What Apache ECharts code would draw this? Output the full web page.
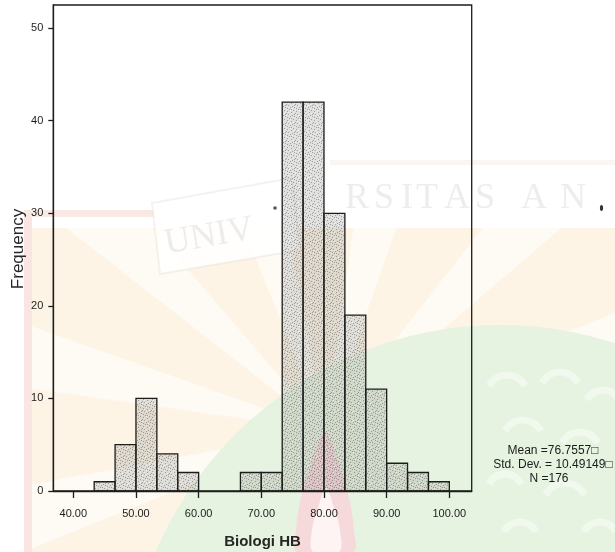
<!DOCTYPE html>
<html>
<head>
<meta charset="utf-8">
<title>Biologi HB</title>
<script src="https://cdn.jsdelivr.net/npm/echarts@6/dist/echarts.min.js"></script>
<style>
  html, body { margin: 0; padding: 0; background: #ffffff; }
  #chart { width: 615px; height: 552px; }
</style>
</head>
<body>
<div id="chart"></div>
<script>
// Histogram bins of Biologi HB (bin width 10/3)
const binLow  = [43.333, 46.667, 50, 53.333, 56.667, 60, 63.333, 66.667, 70, 73.333, 76.667, 80, 83.333, 86.667, 90, 93.333, 96.667];
const binHigh = [46.667, 50, 53.333, 56.667, 60, 63.333, 66.667, 70, 73.333, 76.667, 80, 83.333, 86.667, 90, 93.333, 96.667, 100];
const frequency = [1, 5, 10, 4, 2, 0, 0, 2, 2, 42, 42, 30, 19, 11, 3, 2, 1];

// Axis tick values
const xTicks = [40, 50, 60, 70, 80, 90, 100];
const yTicks = [0, 10, 20, 30, 40, 50];

// Summary statistics
const statMean = '76.7557';
const statStdDev = '10.49149';
const statN = 176;

const FONT = '"Liberation Sans", Arial, sans-serif';
const SERIF = '"Liberation Serif", "DejaVu Serif", serif';
const INK = '#1c1c1c';

// Stipple texture for the bar fill
function stippleTile() {
  const c = document.createElement('canvas');
  c.width = 9; c.height = 9;
  const g = c.getContext('2d');
  g.fillStyle = 'rgba(140,140,132,0.28)';
  g.fillRect(0, 0, 9, 9);
  g.fillStyle = 'rgba(60,60,60,0.38)';
  const dots = [[1,1],[5,2],[3,4],[7,5],[0,6],[4,7],[8,0],[2,8],[6,8],[8,3],[3,1],[6,6]];
  dots.forEach(d => g.fillRect(d[0], d[1], 1, 1));
  g.fillStyle = 'rgba(255,255,255,0.4)';
  [[2,2],[7,1],[0,4],[5,5],[2,6],[7,7],[4,0],[1,7]].forEach(d => g.fillRect(d[0], d[1], 1, 1));
  return c;
}
const stipple = stippleTile();

const bins = binLow.map((lo, i) => [lo, binHigh[i], frequency[i]]);

// Faded background emblem
const rayCenter = [325, 430];
const rays = [];
for (let k = 0; k < 12; k++) {
  const a0 = (k * 30 + 8) * Math.PI / 180;
  rays.push({
    type: 'sector', z: -19, silent: true,
    shape: { cx: rayCenter[0], cy: rayCenter[1], r0: 0, r: 520, startAngle: a0, endAngle: a0 + 0.2 },
    style: { fill: 'rgba(255,255,255,0.6)' }
  });
}
const clouds = [
  [507, 395, 20], [560, 392, 20], [603, 408, 18], [523, 440, 20], [580, 452, 20],
  [505, 492, 18], [565, 505, 22], [600, 540, 18], [520, 540, 18]
].map(c => ({
  type: 'arc', z: -16, silent: true,
  shape: { cx: c[0], cy: c[1], r: c[2], startAngle: Math.PI * 1.15, endAngle: Math.PI * 1.85 },
  style: { stroke: 'rgba(255,255,255,0.45)', lineWidth: 7, fill: null }
}));
const tailLetters = [['R', 345], ['S', 374], ['I', 401], ['T', 416], ['A', 444], ['S', 475], ['A', 521], ['N', 560]];
const tailText = tailLetters.map(l => ({
  type: 'text', z: -14, silent: true,
  style: { text: l[0], x: l[1], y: 217, font: '36px ' + SERIF, fill: 'rgba(175,175,175,0.22)', textVerticalAlign: 'bottom' }
}));

const background = [
  { type: 'rect', z: -20, silent: true, shape: { x: 26, y: 228, width: 589, height: 324 }, style: { fill: '#fdf4e6' } },
  ...rays,
  { type: 'circle', z: -17, silent: true, shape: { cx: 500, cy: 700, r: 375 }, style: { fill: '#e6f3e1' } },
  ...clouds,
  { type: 'rect', z: -15, silent: true, shape: { x: 24, y: 212, width: 8, height: 340 }, style: { fill: '#f9e6e4' } },
  { type: 'rect', z: -15, silent: true, shape: { x: 24, y: 210, width: 130, height: 7 }, style: { fill: '#f9e9e5' } },
  { type: 'polygon', z: -15, silent: true,
    shape: { smooth: 0.35, points: [[325, 432], [338, 462], [349, 498], [354, 530], [353, 552], [297, 552], [296, 530], [301, 498], [312, 462]] },
    style: { fill: '#f6d9da' } },
  { type: 'polygon', z: -15, silent: true,
    shape: { smooth: 0.35, points: [[326, 488], [334, 508], [340, 530], [339, 552], [313, 552], [312, 530], [318, 508]] },
    style: { fill: '#fdf4f3' } },
  { type: 'polygon', z: -15, silent: true,
    shape: { points: [[152, 203], [292, 178], [300, 250], [160, 274]] },
    style: { fill: 'rgba(255,255,255,0.9)', stroke: 'rgba(225,218,210,0.35)', lineWidth: 2 } },
  { type: 'rect', z: -15, silent: true, shape: { x: 330, y: 160, width: 285, height: 5 }, style: { fill: 'rgba(248,240,232,0.6)' } },
  { type: 'text', z: -14, silent: true, rotation: 0.17, x: 168, y: 262,
    style: { text: 'UNIV', x: 0, y: 0, font: '36px ' + SERIF, fill: 'rgba(175,175,175,0.22)', textVerticalAlign: 'bottom' } },
  ...tailText,
  { type: 'circle', z: -5, silent: true, shape: { cx: 275, cy: 208, r: 1.8 }, style: { fill: '#555' } },
  { type: 'circle', z: -5, silent: true, x: 601.5, y: 208, scaleY: 1.9, shape: { cx: 0, cy: 0, r: 1.6 }, style: { fill: '#333' } }
];

// Y-axis title and the summary box
const annotations = [
  { type: 'text', z: 10, rotation: Math.PI / 2, x: 18.5, y: 249,
    style: { text: 'Frequency', x: 0, y: 0, font: '17px ' + FONT, fill: '#262626', textAlign: 'center', textVerticalAlign: 'middle' } },
  { type: 'text', z: 10, style: { text: 'Mean =' + statMean + '\u25A1', x: 553, y: 451, font: '12px ' + FONT, fill: INK, textAlign: 'center', textVerticalAlign: 'middle' } },
  { type: 'text', z: 10, style: { text: 'Std. Dev. = ' + statStdDev + '\u25A1', x: 553, y: 465, font: '12px ' + FONT, fill: INK, textAlign: 'center', textVerticalAlign: 'middle' } },
  { type: 'text', z: 10, style: { text: 'N =' + statN, x: 549, y: 479, font: '12px ' + FONT, fill: INK, textAlign: 'center', textVerticalAlign: 'middle' } }
];

const chart = echarts.init(document.getElementById('chart'), null, { renderer: 'canvas' });
chart.setOption({
  backgroundColor: '#ffffff',
  animation: false,
  grid: {
    left: 53.3, right: 143.3, top: 5, bottom: 61,
    containLabel: false, outerBoundsMode: 'none',
    show: true, borderColor: INK, borderWidth: 1.3, backgroundColor: 'transparent'
  },
  xAxis: {
    type: 'value', min: 36.81, max: 103.57,
    name: 'Biologi HB', nameLocation: 'middle', nameGap: 43,
    nameTextStyle: { fontFamily: FONT, fontSize: 15, fontWeight: 'bold', color: '#262626' },
    axisLine: { show: true, onZero: false, lineStyle: { color: INK, width: 1.3 } },
    axisTick: { show: true, length: 7, customValues: xTicks, lineStyle: { color: INK, width: 1.3 } },
    axisLabel: { customValues: xTicks, formatter: v => v.toFixed(2), margin: 17, fontFamily: FONT, fontSize: 11, color: INK },
    splitLine: { show: false }
  },
  yAxis: {
    type: 'value', min: 0, max: 52.5,
    axisLine: { show: true, onZero: false, lineStyle: { color: INK, width: 1.3 } },
    axisTick: { show: true, length: 5, customValues: yTicks, lineStyle: { color: INK, width: 1.3 } },
    axisLabel: { customValues: yTicks, margin: 10, fontFamily: FONT, fontSize: 11, color: INK },
    splitLine: { show: false }
  },
  graphic: { elements: background.concat(annotations) },
  series: [{
    type: 'custom',
    data: bins,
    encode: { x: [0, 1], y: 2 },
    z: 3,
    renderItem: function (params, api) {
      const n = api.value(2);
      if (!n) return null;
      const p0 = api.coord([api.value(0), n]);
      const p1 = api.coord([api.value(1), 0]);
      return {
        type: 'rect',
        shape: { x: p0[0], y: p0[1], width: p1[0] - p0[0], height: p1[1] - p0[1] },
        style: { fill: { image: stipple, repeat: 'repeat' }, stroke: INK, lineWidth: 1.3 }
      };
    }
  }]
});
</script>
</body>
</html>
